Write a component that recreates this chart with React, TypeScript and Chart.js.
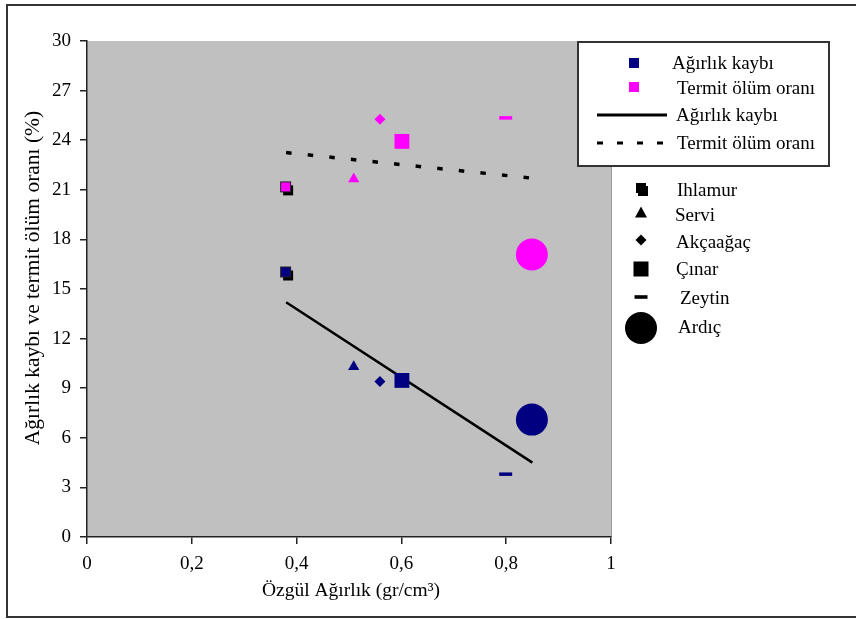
import React, { useEffect, useRef } from "react";
import { Chart, registerables } from "chart.js";

Chart.register(...registerables);

// ---- data ----
const species = ["Ihlamur", "Servi", "Akçaağaç", "Çınar", "Zeytin", "Ardıç"];
const specificGravity = [0.38, 0.509, 0.559, 0.601, 0.799, 0.849];
const weightLoss = [16.0, 10.3, 9.4, 9.47, 3.8, 7.1];
const termiteMortality = [21.15, 21.65, 25.27, 23.93, 25.35, 17.09];
const trendX = [0.38, 0.85];
const weightLossTrend = [14.2, 4.5];
const mortalityTrend = [23.25, 21.7];
const seriesLabels = ["Ağırlık kaybı", "Termit ölüm oranı"];
const xTitle = "Özgül Ağırlık (gr/cm³)";
const yTitle = "Ağırlık kaybı ve termit ölüm oranı (%)";

const NAVY = "#000080";
const PINK = "#FF00FF";
const FONT = "Liberation Serif, 'Times New Roman', serif";

function makeIhlamurImage(color: string): HTMLCanvasElement {
  const c = document.createElement("canvas");
  c.width = 22;
  c.height = 22;
  const ctx = c.getContext("2d")!;
  ctx.fillStyle = "#000";
  ctx.fillRect(8, 9, 10, 10);
  ctx.fillStyle = color;
  ctx.fillRect(6, 6, 10, 10);
  ctx.strokeStyle = "#222";
  ctx.lineWidth = 1;
  ctx.strokeRect(5.5, 5.5, 10, 10);
  return c;
}

const markerStyles = (color: string) => [makeIhlamurImage(color), "triangle", "rectRot", "rect", "line", "circle"];
const markerRadius = [11, 6.5, 5.5, 10.5, 6.5, 16];
const markerBorder = [0, 0, 0, 0, 3.5, 0];

function drawMarker(ctx: CanvasRenderingContext2D, kind: number, x: number, y: number) {
  ctx.save();
  ctx.fillStyle = "#000";
  ctx.strokeStyle = "#000";
  switch (kind) {
    case 0:
      ctx.fillRect(x - 3, y - 2, 10, 10);
      ctx.fillRect(x - 5, y - 5, 10, 10);
      break;
    case 1:
      ctx.beginPath();
      ctx.moveTo(x, y - 6.5);
      ctx.lineTo(x + 6, y + 4.5);
      ctx.lineTo(x - 6, y + 4.5);
      ctx.closePath();
      ctx.fill();
      break;
    case 2:
      ctx.beginPath();
      ctx.moveTo(x, y - 5.5);
      ctx.lineTo(x + 5.5, y);
      ctx.lineTo(x, y + 5.5);
      ctx.lineTo(x - 5.5, y);
      ctx.closePath();
      ctx.fill();
      break;
    case 3:
      ctx.fillRect(x - 7.5, y - 7.5, 15, 15);
      break;
    case 4:
      ctx.fillRect(x - 6.5, y - 1.8, 13, 3.6);
      break;
    case 5:
      ctx.beginPath();
      ctx.arc(x, y, 16, 0, Math.PI * 2);
      ctx.fill();
      break;
  }
  ctx.restore();
}

const decorPlugin = {
  id: "decor",
  beforeDraw(chart: any) {
    const { ctx, chartArea } = chart;
    ctx.save();
    ctx.fillStyle = "#fff";
    ctx.fillRect(0, 0, chart.width, chart.height);
    ctx.fillStyle = "#C0C0C0";
    ctx.fillRect(chartArea.left, chartArea.top, chartArea.right - chartArea.left, chartArea.bottom - chartArea.top);
    ctx.strokeStyle = "#9a9a9a";
    ctx.lineWidth = 1;
    ctx.beginPath();
    ctx.moveTo(chartArea.right + 0.5, chartArea.top);
    ctx.lineTo(chartArea.right + 0.5, chartArea.bottom);
    ctx.stroke();
    ctx.restore();
  },
  afterDraw(chart: any) {
    const { ctx } = chart;
    ctx.save();
    // outer frame
    ctx.strokeStyle = "#333";
    ctx.lineWidth = 2;
    ctx.strokeRect(7, 5, 870, 612);

    // axis titles
    ctx.fillStyle = "#000";
    ctx.textAlign = "center";
    ctx.textBaseline = "middle";
    ctx.font = `19.5px ${FONT}`;
    ctx.fillText(xTitle, 351, 591);
    ctx.save();
    ctx.font = `21.5px ${FONT}`;
    ctx.translate(33, 278);
    ctx.rotate(-Math.PI / 2);
    ctx.fillText(yTitle, 0, 0);
    ctx.restore();

    ctx.font = `19px ${FONT}`;
    // legend box 1
    ctx.fillStyle = "#fff";
    ctx.fillRect(578, 42, 251, 124);
    ctx.strokeStyle = "#333";
    ctx.lineWidth = 2;
    ctx.strokeRect(578, 42, 251, 124);

    ctx.fillStyle = NAVY;
    ctx.fillRect(629, 58, 10, 10);
    ctx.fillStyle = PINK;
    ctx.fillRect(629, 82, 10, 10);
    ctx.strokeStyle = "#000";
    ctx.lineWidth = 3;
    ctx.beginPath();
    ctx.moveTo(597, 115);
    ctx.lineTo(667, 115);
    ctx.stroke();
    ctx.setLineDash([6, 14]);
    ctx.beginPath();
    ctx.moveTo(597, 143);
    ctx.lineTo(672, 143);
    ctx.stroke();
    ctx.setLineDash([]);

    ctx.fillStyle = "#000";
    ctx.textAlign = "left";
    ctx.fillText(seriesLabels[0], 672, 64);
    ctx.fillText(seriesLabels[1], 677, 89);
    ctx.fillText(seriesLabels[0], 676, 116);
    ctx.fillText(seriesLabels[1], 677, 144);

    // legend 2 (species)
    const ys = [188, 213, 240, 269, 297, 328];
    const tx = [677, 675, 676, 676, 680, 678];
    const ty = [191, 216, 243, 270, 299, 328];
    species.forEach((s, i) => {
      drawMarker(ctx, i, 641, ys[i]);
      ctx.fillStyle = "#000";
      ctx.fillText(s, tx[i], ty[i]);
    });
    ctx.restore();
  },
};

export default function App() {
  const ref = useRef<HTMLCanvasElement | null>(null);
  useEffect(() => {
    if (!ref.current) return;
    Chart.defaults.font.family = FONT;
    const pts = (ys: number[]) => specificGravity.map((x, i) => ({ x, y: ys[i] }));
    const chart = new Chart(ref.current, {
      type: "scatter",
      data: {
        datasets: [
          {
            label: seriesLabels[0],
            data: pts(weightLoss),
            backgroundColor: NAVY,
            borderColor: NAVY,
            pointStyle: markerStyles(NAVY) as any,
            pointRadius: markerRadius,
            pointBorderWidth: markerBorder,
          },
          {
            label: seriesLabels[1],
            data: pts(termiteMortality),
            backgroundColor: PINK,
            borderColor: PINK,
            pointStyle: markerStyles(PINK) as any,
            pointRadius: markerRadius,
            pointBorderWidth: markerBorder,
          },
          {
            label: seriesLabels[0] + " trend",
            data: trendX.map((x, i) => ({ x, y: weightLossTrend[i] })),
            showLine: true,
            borderColor: "#000",
            borderWidth: 2.5,
            pointRadius: 0,
          },
          {
            label: seriesLabels[1] + " trend",
            data: trendX.map((x, i) => ({ x, y: mortalityTrend[i] })),
            showLine: true,
            borderColor: "#000",
            borderWidth: 3.5,
            borderDash: [5.5, 16.2],
            pointRadius: 0,
          },
        ],
      },
      options: {
        animation: false,
        responsive: false,
        devicePixelRatio: 1,
        layout: { padding: { left: 0, top: 41, right: 245, bottom: 0 } },
        plugins: { legend: { display: false }, tooltip: { enabled: false } },
        scales: {
          x: {
            type: "linear",
            min: 0,
            max: 1,
            afterFit: (s: any) => {
              s.height = 82;
            },
            ticks: {
              stepSize: 0.2,
              color: "#000",
              padding: 9,
              font: { size: 19, family: FONT },
              maxRotation: 0,
              callback: (v: any) => {
                const n = Number(v);
                if (n === 0 || n === 1) return String(n);
                return n.toFixed(1).replace(".", ",");
              },
            },
            grid: { drawOnChartArea: false, drawTicks: true, tickLength: 7, color: "#222", lineWidth: 1.5 },
            border: { display: true, color: "#222", width: 1.5 },
          },
          y: {
            type: "linear",
            min: 0,
            max: 30,
            afterFit: (s: any) => {
              s.width = 87;
            },
            ticks: {
              stepSize: 3,
              color: "#000",
              padding: 9,
              font: { size: 19, family: FONT },
            },
            grid: { drawOnChartArea: false, drawTicks: true, tickLength: 7, color: "#222", lineWidth: 1.5 },
            border: { display: true, color: "#222", width: 1.5 },
          },
        },
      },
      plugins: [decorPlugin],
    });
    return () => chart.destroy();
  }, []);
  return (
    <div style={{ position: "fixed", left: 0, top: 0, width: 856, height: 619 }}>
      <canvas ref={ref} width={856} height={619} style={{ width: 856, height: 619, display: "block" }} />
    </div>
  );
}
